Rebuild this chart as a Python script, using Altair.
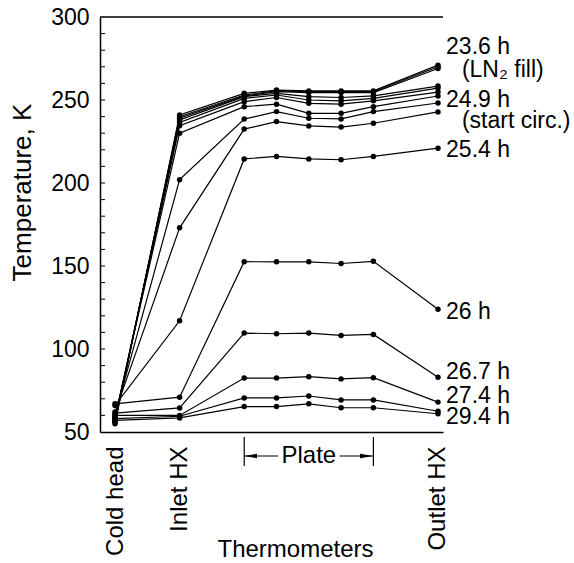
import altair as alt
import pandas as pd

# Thermometer positions (x index) and names
sensor_x = [0, 2, 4, 5, 6, 7, 8, 10]
axis_ticks = [0, 2, 10]
axis_names = ["Cold head", "Inlet HX", "Outlet HX"]

# Temperature profiles (K) at successive times
s23_6 = [55, 241, 254, 256, 255.5, 255.5, 255.5, 271]
s23_9 = [56, 240, 253, 255.5, 255, 255, 255, 270]
s24_2 = [56, 239, 252.5, 255, 254.5, 254.5, 254.5, 269]
s24_6 = [57, 238, 252, 254, 252, 251.5, 252.5, 258.4]
s24_9 = [58, 236.5, 251, 253, 250, 249.5, 251, 257.2]
s25_0 = [58, 234.5, 249, 251.5, 248, 247.5, 249.5, 254.8]
s25_1 = [59, 230, 246, 247.5, 242, 242, 246, 252.4]
s25_2 = [60, 202, 238.5, 243, 239, 238.6, 243, 248.2]
s25_3 = [62, 173, 232.5, 237, 234.4, 233.7, 236, 242.8]
s25_4 = [66, 117, 214.5, 216, 214.5, 214, 216, 221]
s26_0 = [67, 71, 152.6, 152.5, 152.5, 151.5, 152.8, 124]
s26_7 = [61.4, 64.5, 109.6, 109.2, 109.6, 108.2, 108.8, 83]
s27_4 = [60, 60, 82.5, 82.5, 83.3, 82, 82.7, 68]
s28_0 = [58, 59.5, 70.5, 70.5, 71.7, 69.3, 69.3, 62.5]
s29_4 = [57, 58.5, 65.3, 65.3, 67, 64.6, 64.6, 61]

series = {
    "23.6": s23_6, "23.9": s23_9, "24.2": s24_2, "24.6": s24_6, "24.9": s24_9,
    "25.0": s25_0, "25.1": s25_1, "25.2": s25_2, "25.3": s25_3, "25.4": s25_4,
    "26.0": s26_0, "26.7": s26_7, "27.4": s27_4, "28.0": s28_0, "29.4": s29_4,
}

# Annotation labels (data coordinates)
label_text = ["23.6 h", "(LN\u2082 fill)", "24.9 h", "(start circ.)", "25.4 h",
              "26 h", "26.7 h", "27.4 h", "29.4 h"]
label_x = [10.25, 10.74, 10.25, 10.74, 10.25, 10.25, 10.25, 10.25, 10.25]
label_y = [281.9, 268.0, 250.0, 237.4, 219.9, 122.3, 86.1, 71.4, 59.0]

minor_ticks = list(range(60, 300, 10))

# Plate bracket
plate_left, plate_right, plate_mid = 4, 8, 6

rows = []
for name, vals in series.items():
    for i, (x, v) in enumerate(zip(sensor_x, vals)):
        rows.append({"series": name, "x": x, "T": v, "i": i})
df = pd.DataFrame(rows)

FONT = "Liberation Sans"
W, H = 343, 415
xscale = alt.Scale(domain=[-0.465, 10.155], nice=False, zero=False)
yscale = alt.Scale(domain=[50, 300], nice=False, zero=False)

xaxis = alt.Axis(
    values=axis_ticks,
    labelExpr="datum.value == 0 ? 'Cold head' : datum.value == 2 ? 'Inlet HX' : 'Outlet HX'",
    labelAngle=270, labelAlign="right", labelBaseline="middle", labelPadding=14,
    labelFontSize=24, labelFont=FONT, labelColor="black", labelOverlap=False, labelFlush=False,
    ticks=False, grid=False, domainColor="black", domainWidth=1.5,
    title="Thermometers", titleFont=FONT, titleFontSize=24, titleFontWeight="normal",
    titleColor="black", titleX=195, titleY=117, titleAlign="center", titleBaseline="middle",
)
yaxis = alt.Axis(
    values=[50, 100, 150, 200, 250, 300],
    labelFontSize=23, labelFont=FONT, labelColor="black", labelPadding=11,
    ticks=False, grid=False, domainColor="black", domainWidth=1.5,
    title="Temperature, K", titleFont=FONT, titleFontSize=26, titleFontWeight="normal",
    titleColor="black", titleAngle=270, titleX=-78, titleY=175,
    titleAlign="center", titleBaseline="middle",
)

base = alt.Chart(df)
lines = base.mark_line(color="black", strokeWidth=1.2).encode(
    x=alt.X("x:Q", scale=xscale, axis=xaxis),
    y=alt.Y("T:Q", scale=yscale, axis=yaxis),
    detail="series:N",
    order="i:Q",
)
points = base.mark_point(filled=True, color="black", size=30, opacity=1).encode(
    x=alt.X("x:Q", scale=xscale), y=alt.Y("T:Q", scale=yscale)
)

labels = alt.Chart(pd.DataFrame({"t": label_text, "x": label_x, "y": label_y})).mark_text(
    align="left", baseline="middle", font=FONT, fontSize=23, color="black"
).encode(x=alt.X("x:Q", scale=xscale), y=alt.Y("y:Q", scale=yscale), text="t:N")

ticks = alt.Chart(pd.DataFrame({"v": minor_ticks})).mark_rule(color="black", strokeWidth=1).encode(
    y=alt.Y("v:Q", scale=yscale), x=alt.value(0), x2=alt.value(5)
)
top_line = alt.Chart(pd.DataFrame({"v": [300]})).mark_rule(color="black", strokeWidth=1.5).encode(
    y=alt.Y("v:Q", scale=yscale), x=alt.value(0), x2=alt.value(W)
)

bracket = alt.Chart(pd.DataFrame({"x": [plate_left, plate_right]})).mark_rule(
    color="black", strokeWidth=1.2
).encode(x=alt.X("x:Q", scale=xscale), y=alt.value(420), y2=alt.value(449))

arrow_lines = alt.Chart(pd.DataFrame({"x": [plate_left, 6.95], "x2": [5.05, plate_right]})).mark_rule(
    color="black", strokeWidth=1.2
).encode(x=alt.X("x:Q", scale=xscale), x2="x2:Q", y=alt.value(439))

heads = alt.Chart(pd.DataFrame({
    "x": [4.195, 7.786],
    "shape": ["M -1 0 L 1 -0.33 L 1 0.33 Z", "M 1 0 L -1 -0.33 L -1 0.33 Z"],
})).mark_point(filled=True, color="black", size=169, opacity=1).encode(
    x=alt.X("x:Q", scale=xscale), y=alt.value(439),
    shape=alt.Shape("shape:N", scale=None, legend=None),
)

plate_text = alt.Chart(pd.DataFrame({"x": [plate_mid], "t": ["Plate"]})).mark_text(
    font=FONT, fontSize=24, color="black", baseline="middle", align="center"
).encode(x=alt.X("x:Q", scale=xscale), y=alt.value(439), text="t:N")

chart = alt.layer(
    lines, points, labels, ticks, top_line, bracket, arrow_lines, heads, plate_text
).properties(
    width=W, height=H,
    padding={"left": 100, "top": 17, "right": 131, "bottom": 131},
    autosize=alt.AutoSizeParams(type="none"),
    background="white",
).configure_view(stroke=None)

chart.save("out.html", embed_options={"renderer": "svg", "actions": False})
